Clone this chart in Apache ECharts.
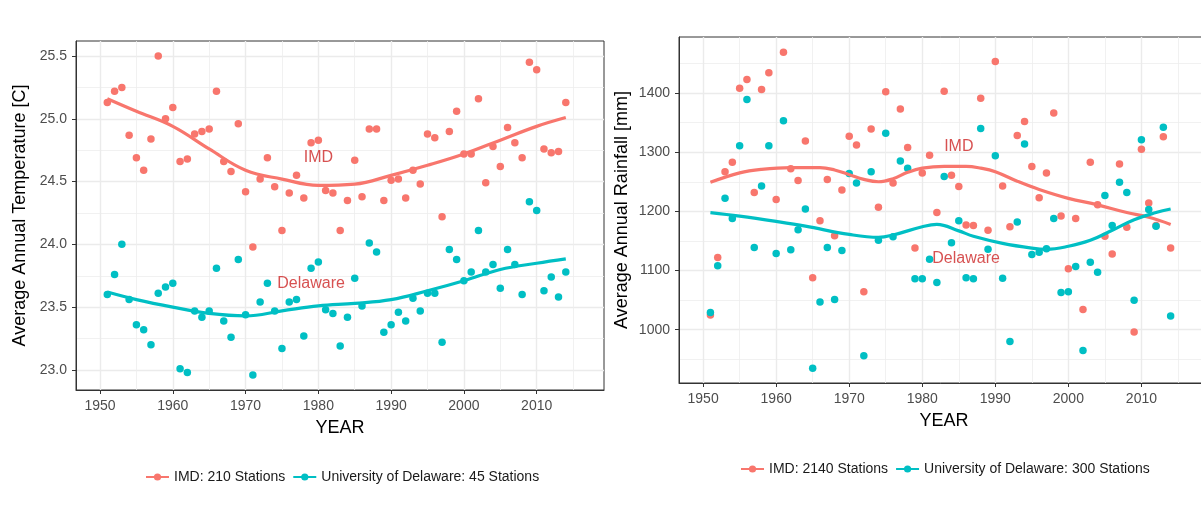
<!DOCTYPE html>
<html>
<head>
<meta charset="utf-8">
<script src="https://cdn.jsdelivr.net/npm/echarts@6/dist/echarts.min.js"></script>
<style>
  html, body { margin: 0; padding: 0; background: #fff; }
  #chart { width: 1201px; height: 512px; }
</style>
</head>
<body>
<div id="chart"></div>
<script>
// years of the annual series
const years = [1951, 1952, 1953, 1954, 1955, 1956, 1957, 1958, 1959, 1960,
  1961, 1962, 1963, 1964, 1965, 1966, 1967, 1968, 1969, 1970,
  1971, 1972, 1973, 1974, 1975, 1976, 1977, 1978, 1979, 1980,
  1981, 1982, 1983, 1984, 1985, 1986, 1987, 1988, 1989, 1990,
  1991, 1992, 1993, 1994, 1995, 1996, 1997, 1998, 1999, 2000,
  2001, 2002, 2003, 2004, 2005, 2006, 2007, 2008, 2009, 2010,
  2011, 2012, 2013, 2014]

// annual temperature [C]
const tempImd = [25.13, 25.22, 25.25, 24.87, 24.69, 24.59, 24.84, 25.50, 25.00, 25.09,
  24.66, 24.68, 24.88, 24.90, 24.92, 25.22, 24.66, 24.58, 24.96, 24.42,
  23.98, 24.52, 24.69, 24.46, 24.11, 24.41, 24.55, 24.37, 24.81, 24.83,
  24.43, 24.41, 24.11, 24.35, 24.67, 24.38, 24.92, 24.92, 24.35, 24.51,
  24.52, 24.37, 24.59, 24.48, 24.88, 24.85, 24.22, 24.90, 25.06, 24.72,
  24.72, 25.16, 24.49, 24.78, 24.62, 24.93, 24.81, 24.69, 25.45, 25.39,
  24.76, 24.73, 24.74, 25.13]
const tempDel = [23.60, 23.76, 24.00, 23.56, 23.36, 23.32, 23.20, 23.61, 23.66, 23.69,
  23.01, 22.98, 23.47, 23.42, 23.47, 23.81, 23.39, 23.26, 23.88, 23.44,
  22.96, 23.54, 23.69, 23.47, 23.17, 23.54, 23.56, 23.27, 23.81, 23.86,
  23.48, 23.45, 23.19, 23.42, 23.73, 23.51, 24.01, 23.94, 23.30, 23.36,
  23.46, 23.39, 23.57, 23.47, 23.61, 23.61, 23.22, 23.96, 23.88, 23.71,
  23.78, 24.11, 23.78, 23.84, 23.65, 23.96, 23.84, 23.60, 24.34, 24.27,
  23.63, 23.74, 23.58, 23.78]

// smoothed temperature curves
const tempFitYears = [1951, 1955, 1960, 1965, 1970, 1975, 1980, 1985, 1990, 1995, 2000, 2005, 2010, 2014]
const tempImdFit = [25.16, 25.06, 24.94, 24.76, 24.59, 24.52, 24.47, 24.48, 24.55, 24.63, 24.72, 24.83, 24.94, 25.01]
const tempDelFit = [23.62, 23.56, 23.50, 23.45, 23.43, 23.47, 23.51, 23.53, 23.56, 23.63, 23.71, 23.80, 23.85, 23.885]

// annual rainfall [mm]
const rainImd = [1025, 1122, 1267, 1283, 1408, 1423, 1232, 1406, 1434, 1220,
  1469, 1272, 1252, 1319, 1088, 1184, 1254, 1159, 1236, 1327,
  1312, 1064, 1339, 1207, 1402, 1248, 1373, 1308, 1138, 1265,
  1295, 1198, 1403, 1261, 1242, 1177, 1176, 1391, 1168, 1453,
  1243, 1174, 1328, 1352, 1276, 1223, 1265, 1366, 1192, 1103,
  1188, 1034, 1283, 1211, 1158, 1128, 1280, 1173, 996, 1305,
  1214, 1176, 1326, 1138]
const rainDel = [1029, 1108, 1222, 1188, 1311, 1389, 1139, 1243, 1311, 1129,
  1353, 1135, 1169, 1204, 935, 1047, 1139, 1051, 1134, 1264,
  1248, 956, 1267, 1151, 1332, 1157, 1285, 1273, 1086, 1086,
  1119, 1080, 1259, 1147, 1184, 1088, 1086, 1340, 1136, 1294,
  1087, 980, 1182, 1314, 1127, 1131, 1137, 1188, 1063, 1064,
  1107, 965, 1114, 1097, 1227, 1176, 1249, 1232, 1050, 1321,
  1203, 1175, 1342, 1023]

// smoothed rainfall curves
const rainImdFitYears = [1951, 1955, 1958, 1962, 1966, 1968, 1970, 1972, 1974, 1976, 1978, 1980, 1983, 1986, 1988, 1990, 1993, 1996, 2000, 2004, 2008, 2011, 2014]
const rainImdFit = [1249, 1265, 1271, 1274, 1274, 1270, 1262, 1254, 1250, 1255, 1266, 1273, 1276, 1276, 1273, 1267, 1251, 1237, 1222, 1211, 1198, 1190, 1178]
const rainDelFitYears = [1951, 1955, 1960, 1964, 1970, 1974, 1976, 1980, 1982, 1985, 1987, 1991, 1995, 1997, 2000, 2003, 2006, 2009, 2012, 2014]
const rainDelFit = [1198, 1192, 1183, 1175, 1161, 1156, 1160, 1174, 1178, 1167, 1158, 1146, 1138, 1136, 1141, 1151, 1168, 1186, 1198, 1204]

// axis ticks
const yearTicks = [1950, 1960, 1970, 1980, 1990, 2000, 2010]
const yearMinor = [1955, 1965, 1975, 1985, 1995, 2005, 2015]
const tempTicks = [23.0, 23.5, 24.0, 24.5, 25.0, 25.5]
const tempMinor = [23.25, 23.75, 24.25, 24.75, 25.25]
const rainTicks = [1000, 1100, 1200, 1300, 1400]
const rainMinor = [950, 1050, 1150, 1250, 1350, 1450]

// legend and label text
const legendTemp = ['IMD: 210 Stations', 'University of Delaware: 45 Stations']
const legendRain = ['IMD: 2140 Stations', 'University of Delaware: 300 Stations']
const tempLabels = [{ name: 'IMD', value: [1980, 24.69] }, { name: 'Delaware', value: [1979, 23.69] }]
const rainLabels = [{ name: 'IMD', value: [1985, 1309] }, { name: 'Delaware', value: [1986, 1120] }]

const RED = '#F8766D'
const TEAL = '#00BFC4'
const FONT = 'Liberation Sans, Arial, sans-serif'

const pairs = (xs, ys) => xs.map((x, i) => [x, ys[i]])

function majorAxis(gridIndex, min, max, ticks, name, gap, fmt) {
  return {
    gridIndex, type: 'value', min, max, name,
    nameLocation: 'middle', nameGap: gap,
    nameTextStyle: { color: '#000', fontSize: 18, fontFamily: FONT },
    axisLine: { show: true, lineStyle: { color: '#333', width: 1 } },
    axisTick: { show: true, length: 4, customValues: ticks, lineStyle: { color: '#333' } },
    axisLabel: { customValues: ticks, color: '#4d4d4d', fontSize: 14, fontFamily: FONT, margin: 9, formatter: fmt },
    splitLine: { show: true, lineStyle: { color: '#ebebeb', width: 1.4 } }
  }
}
function minorAxis(gridIndex, min, max, ticks) {
  return {
    gridIndex, type: 'value', min, max,
    axisLine: { show: false },
    axisTick: { show: false, customValues: ticks },
    axisLabel: { show: false },
    splitLine: { show: true, lineStyle: { color: '#ededed', width: 0.8 } }
  }
}

function fitLine(name, xi, yi, xs, ys, color) {
  return {
    name, type: 'line', xAxisIndex: xi, yAxisIndex: yi, z: 4,
    data: pairs(xs, ys), smooth: 0.4, showSymbol: false,
    symbol: 'circle', symbolSize: 7, itemStyle: { color },
    lineStyle: { color, width: 3.2 }, silent: true
  }
}
function points(name, xi, yi, ys, color) {
  return {
    name, type: 'scatter', xAxisIndex: xi, yAxisIndex: yi, z: 3,
    data: pairs(years, ys), symbolSize: 7.5, itemStyle: { color, opacity: 1 }, silent: true
  }
}
function labels(xi, yi, data) {
  return {
    type: 'scatter', xAxisIndex: xi, yAxisIndex: yi, z: 5, symbolSize: 0, silent: true, data,
    label: { show: true, position: 'inside', formatter: '{b}', color: '#cd2626', fontSize: 16, fontFamily: FONT }
  }
}

const legendBase = {
  itemWidth: 23, itemHeight: 9, itemGap: 7, selectedMode: false,
  textStyle: { color: '#1a1a1a', fontSize: 14, fontFamily: FONT }
}

const chart = echarts.init(document.getElementById('chart'))
chart.setOption({
  backgroundColor: '#fff',
  animation: false,
  grid: [
    { left: 76, top: 41, width: 528, height: 349, show: true, borderColor: '#333', borderWidth: 1, outerBoundsMode: 'none' },
    { left: 679, top: 37, width: 530, height: 346, show: true, borderColor: '#333', borderWidth: 1, outerBoundsMode: 'none' }
  ],
  xAxis: [
    majorAxis(0, 1946.7, 2019.25, yearTicks, 'YEAR', 29, v => v),
    minorAxis(0, 1946.7, 2019.25, yearMinor),
    majorAxis(1, 1946.7, 2019.25, yearTicks, 'YEAR', 29, v => v),
    minorAxis(1, 1946.7, 2019.25, yearMinor)
  ],
  yAxis: [
    majorAxis(0, 22.84, 25.62, tempTicks, 'Average Annual Temperature [C]', 47, v => v.toFixed(1)),
    minorAxis(0, 22.84, 25.62, tempMinor),
    majorAxis(1, 910, 1494.6, rainTicks, 'Average Annual Rainfall [mm]', 48, v => v),
    minorAxis(1, 910, 1494.6, rainMinor)
  ],
  legend: [
    Object.assign({ data: legendTemp, left: 140, top: 465 }, legendBase),
    Object.assign({ data: legendRain, left: 735, top: 457 }, legendBase)
  ],
  series: [
    fitLine(legendTemp[0], 0, 0, tempFitYears, tempImdFit, RED),
    fitLine(legendTemp[1], 0, 0, tempFitYears, tempDelFit, TEAL),
    points(legendTemp[0], 0, 0, tempImd, RED),
    points(legendTemp[1], 0, 0, tempDel, TEAL),
    labels(0, 0, tempLabels),
    fitLine(legendRain[0], 2, 2, rainImdFitYears, rainImdFit, RED),
    fitLine(legendRain[1], 2, 2, rainDelFitYears, rainDelFit, TEAL),
    points(legendRain[0], 2, 2, rainImd, RED),
    points(legendRain[1], 2, 2, rainDel, TEAL),
    labels(2, 2, rainLabels)
  ]
})
</script>
</body>
</html>
